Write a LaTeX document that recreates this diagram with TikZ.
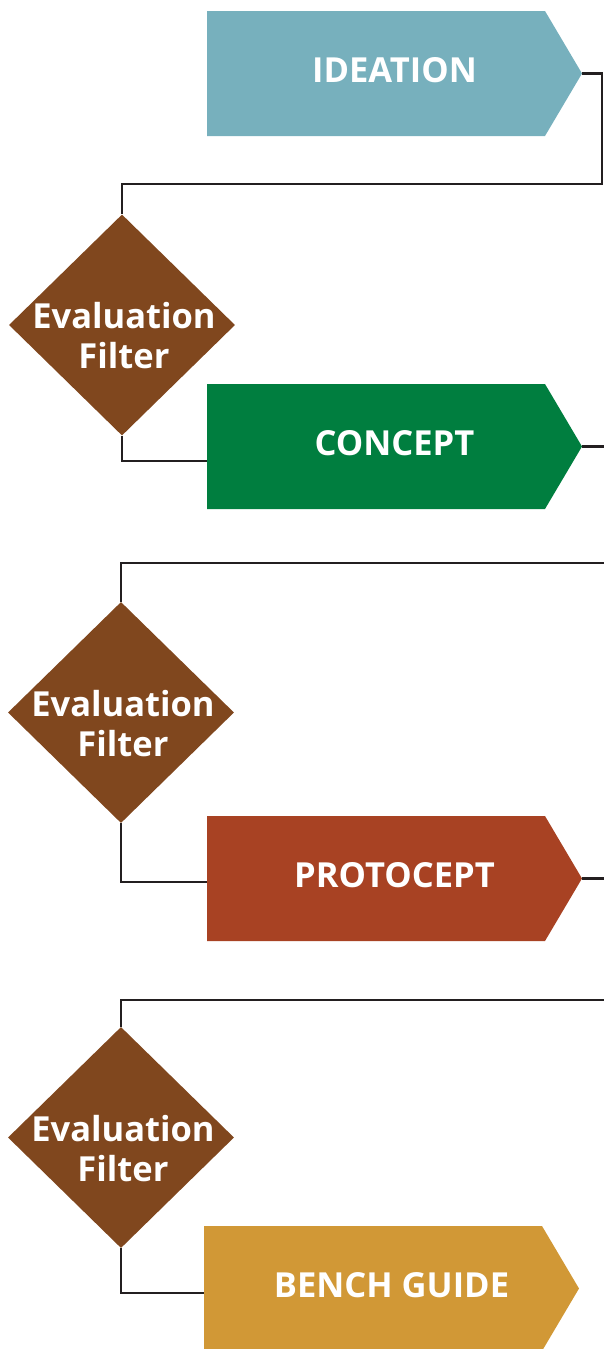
\documentclass[tikz,border=0pt]{standalone}
\usepackage{fontspec}
\setmainfont{Open Sans}
\usetikzlibrary{shapes.geometric}
\definecolor{ideationc}{HTML}{77B0BD}
\definecolor{conceptc}{HTML}{007E3F}
\definecolor{protoc}{HTML}{A84223}
\definecolor{benchc}{HTML}{D19836}
\definecolor{filterc}{HTML}{80471E}
\definecolor{linec}{HTML}{231F20}
\newcommand\stagebox[5]{%
  \fill[#4] (#2,#3-62.5) -- ++(338,0) -- ++(37,62.5) -- ++(-37,62.5) -- ++(-338,0) -- cycle;
  \node[lbl] (#1) at (#2+187.5,#3+8.5) {#5};
  \coordinate (#1-tip) at (#2+375,#3);
}
\begin{document}
\begin{tikzpicture}[x=1pt,y=-1pt,
  conn/.style={draw=linec, line width=2.2pt},
  lbl/.style={text=white, font=\bfseries\fontsize{34.5}{40}\selectfont, inner sep=0pt, anchor=base},
  flbl/.style={text=white, font=\bfseries\fontsize{34.5}{40}\selectfont, inner sep=0pt, align=center},
  filt/.style={diamond, fill=filterc, minimum width=226pt, minimum height=221pt, inner sep=0pt}]
\useasboundingbox (0,0) rectangle (603,1349);

% stages
\stagebox{ideation}{207}{73.5}{ideationc}{IDEATION}
\stagebox{concept}{207}{446.5}{conceptc}{CONCEPT}
\stagebox{proto}{207}{878.5}{protoc}{PROTOCEPT}
\stagebox{bench}{204}{1288.5}{benchc}{BENCH GUIDE}

% filters
\node[filt] (d1) at (122,325) {};
\node[filt] (d2) at (121,712.5) {};
\node[filt] (d3) at (121,1137.5) {};
\node[flbl] (f1) at (124,336) {Evaluation\\Filter};
\node[flbl] (f2) at (123,724) {Evaluation\\Filter};
\node[flbl] (f3) at (123,1149) {Evaluation\\Filter};

% entry points and turning points
\coordinate (concept-in) at (207,461);
\coordinate (proto-in) at (207,882);
\coordinate (bench-in) at (204,1293);
\coordinate (r1) at (602,184);
\coordinate (r2) at (607,563);
\coordinate (r3) at (607,1000);

% connectors
\draw[conn] (ideation-tip) -| (r1) -| (d1.north);
\draw[conn] (d1.south) |- (concept-in);
\draw[conn] (concept-tip) -| (r2) -| (d2.north);
\draw[conn] (d2.south) |- (proto-in);
\draw[conn] (proto-tip) -| (r3) -| (d3.north);
\draw[conn] (d3.south) |- (bench-in);
\end{tikzpicture}
\end{document}
